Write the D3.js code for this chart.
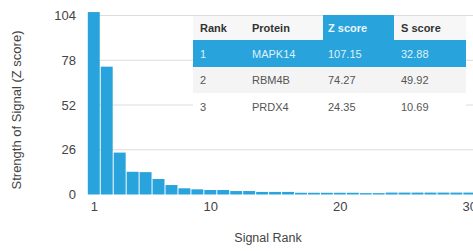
<!DOCTYPE html>
<html>
<head>
<meta charset="utf-8">
<script src="https://cdn.jsdelivr.net/npm/d3@7.9.0/dist/d3.min.js"></script>
<style>
  body { margin: 0; background: #fff; }
  svg { display: block; font-family: "Liberation Sans", Arial, sans-serif; }
</style>
</head>
<body>
<svg id="chart" width="473" height="251"></svg>
<script>
// ranks 1..30, Z score per rank
const ranks = d3.range(1, 31);
const zScores = [106, 74.27, 24.35, 13.2, 13.0, 9.0, 5.5, 3.6, 3.0, 2.6,
  2.6, 2.0, 2.0, 1.5, 1.5, 1.5, 1.0, 1.0, 1.0, 1.0,
  1.0, 0.8, 0.8, 1.1, 1.1, 1.1, 1.1, 1.1, 1.1, 1.1];
const yTicks = [0, 26, 52, 78, 104];
const xTicks = [1, 10, 20, 30];

const tableHeaders = ['Rank', 'Protein', 'Z score', 'S score'];
const tableRows = [
  ['1', 'MAPK14', '107.15', '32.88'],
  ['2', 'RBM4B', '74.27', '49.92'],
  ['3', 'PRDX4', '24.35', '10.69'],
];

const svg = d3.select('#chart');
const blue = '#29a3dc';

const x = d3.scaleLinear().domain([0.5, 30.5]).range([87.3, 475.8]);
const y = d3.scaleLinear().domain([0, 104]).range([194.5, 15.5]);

// gridlines
svg.append('g').selectAll('line').data(yTicks.filter(d => d > 0)).join('line')
  .attr('x1', 88).attr('x2', 473)
  .attr('y1', d => y(d)).attr('y2', d => y(d))
  .attr('stroke', '#dcdcdc').attr('stroke-width', 1);

// bars
svg.append('g').selectAll('rect').data(ranks).join('rect')
  .attr('x', r => x(r - 0.5) + 0.5)
  .attr('width', r => x(r + 0.5) - x(r - 0.5) - 1)
  .attr('y', (r, i) => y(zScores[i]))
  .attr('height', (r, i) => y(0) - y(zScores[i]))
  .attr('fill', blue);

// y axis
const yAxis = svg.append('g').attr('transform', 'translate(78,0)')
  .call(d3.axisLeft(y).tickValues(yTicks).tickSize(0).tickPadding(2));
yAxis.select('.domain').remove();
yAxis.selectAll('text').attr('font-size', 13).attr('fill', '#444')
  .attr('font-family', '"Liberation Sans", Arial, sans-serif');

// x axis
const xAxis = svg.append('g').attr('transform', 'translate(0,202)')
  .call(d3.axisBottom(x).tickValues(xTicks).tickSize(0).tickPadding(0));
xAxis.select('.domain').remove();
xAxis.selectAll('text').attr('font-size', 13).attr('fill', '#444')
  .attr('font-family', '"Liberation Sans", Arial, sans-serif');

// axis titles
svg.append('text').attr('x', 268).attr('y', 242).attr('text-anchor', 'middle')
  .attr('font-size', 12.5).attr('fill', '#444').text('Signal Rank');
svg.append('text').attr('transform', 'translate(21,110) rotate(-90)')
  .attr('text-anchor', 'middle').attr('font-size', 13).attr('fill', '#444')
  .text('Strength of Signal (Z score)');

// table
const tbl = svg.append('g');
const colX = [200, 252, 328, 401];
const tLeft = 193, tRight = 466;
const rowTop = [16, 40, 67, 93];
const rowH = [24, 27, 26, 27];

tbl.append('rect').attr('x', tLeft).attr('y', rowTop[0]).attr('width', tRight - tLeft)
  .attr('height', rowH[0]).attr('fill', '#f7f7f7');
tbl.append('rect').attr('x', 323).attr('y', 15).attr('width', 71)
  .attr('height', rowH[0] + 1).attr('fill', blue);
tbl.append('rect').attr('x', tLeft).attr('y', rowTop[1]).attr('width', tRight - tLeft)
  .attr('height', rowH[1]).attr('fill', blue);
tbl.append('rect').attr('x', tLeft).attr('y', rowTop[2]).attr('width', tRight - tLeft)
  .attr('height', rowH[2]).attr('fill', '#f4f4f4');
tbl.append('rect').attr('x', tLeft).attr('y', rowTop[3]).attr('width', tRight - tLeft)
  .attr('height', rowH[3]).attr('fill', '#fff');

tbl.append('g').selectAll('text').data(tableHeaders).join('text')
  .attr('x', (d, i) => colX[i]).attr('y', 32)
  .attr('font-size', 11).attr('font-weight', 'bold')
  .attr('fill', (d, i) => i === 2 ? '#eaf6fc' : '#333')
  .text(d => d);

tableRows.forEach((row, ri) => {
  tbl.append('g').selectAll('text').data(row).join('text')
    .attr('x', (d, i) => colX[i]).attr('y', rowTop[ri + 1] + rowH[ri + 1] / 2 + 4)
    .attr('font-size', 11)
    .attr('fill', ri === 0 ? '#dff1fa' : '#555')
    .text(d => d);
});
</script>
</body>
</html>
